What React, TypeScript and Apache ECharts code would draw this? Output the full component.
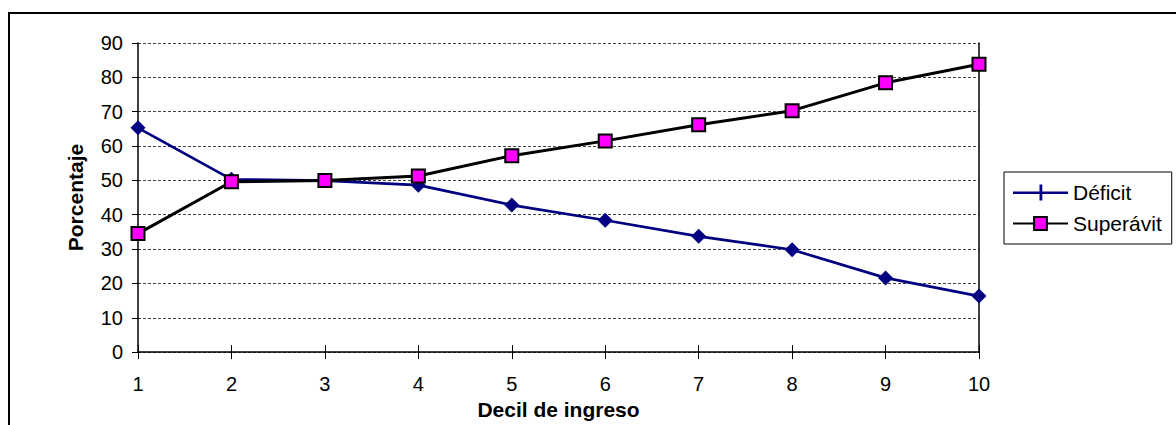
import React, { useEffect, useRef } from "react";
import * as echarts from "echarts";

const categories = ["1", "2", "3", "4", "5", "6", "7", "8", "9", "10"];
const deficit = [65.3, 50.3, 49.9, 48.6, 42.8, 38.4, 33.7, 29.8, 21.6, 16.3];
const superavit = [34.5, 49.6, 50.0, 51.3, 57.2, 61.5, 66.2, 70.3, 78.4, 83.8];
const yTicks = { min: 0, max: 90, interval: 10 };

const FONT = "'Liberation Sans', Arial, sans-serif";

export default function App() {
  const ref = useRef<HTMLDivElement>(null);
  useEffect(() => {
    document.body.style.margin = "0";
    if (!ref.current) return;
    const chart = echarts.init(ref.current, null, { renderer: "svg" });
    chart.setOption({
      animation: false,
      backgroundColor: "#fff",
      textStyle: { fontFamily: FONT },
      graphic: [
        {
          type: "rect",
          shape: { x: 9, y: 13, width: 1300, height: 600 },
          style: { fill: "none", stroke: "#000", lineWidth: 2 },
          silent: true,
          z: 0,
        },
      ],
      grid: { left: 138, right: 197, top: 43, bottom: 69 },
      legend: {
        orient: "vertical",
        left: 1004,
        top: 172,
        padding: [10, 10, 10, 8],
        itemGap: 10,
        itemWidth: 55,
        itemHeight: 16,
        borderColor: "#000",
        borderWidth: 1,
        textStyle: { fontSize: 21, color: "#000", fontFamily: FONT },
        data: [
          { name: "Déficit", icon: "path://M0,7h55v2.5h-55z M26.5,0h2.8v16h-2.8z" },
          { name: "Superávit" },
        ],
      },
      xAxis: [
        {
          type: "category",
          data: categories,
          boundaryGap: false,
          position: "bottom",
          name: "Decil de ingreso",
          nameLocation: "middle",
          nameGap: 38,
          nameTextStyle: { fontSize: 21, fontWeight: "bold", color: "#000", fontFamily: FONT },
          axisLine: { show: true, lineStyle: { color: "#000", width: 1.5 } },
          axisTick: { show: true, inside: false, length: 7, lineStyle: { color: "#000" } },
          axisLabel: { fontSize: 20, color: "#000", margin: 22, fontFamily: FONT },
          splitLine: { show: false },
        },
        {
          type: "category",
          data: categories,
          boundaryGap: false,
          position: "bottom",
          axisLine: { show: false },
          axisTick: { show: true, inside: true, length: 7, lineStyle: { color: "#000" } },
          axisLabel: { show: false },
          splitLine: { show: false },
        },
      ],
      yAxis: [
        {
          type: "value",
          min: yTicks.min,
          max: yTicks.max,
          interval: yTicks.interval,
          name: "Porcentaje",
          nameLocation: "middle",
          nameGap: 52,
          nameTextStyle: { fontSize: 21, fontWeight: "bold", color: "#000", fontFamily: FONT },
          axisLine: { show: true, lineStyle: { color: "#000", width: 1.5 } },
          axisTick: { show: true, inside: false, length: 6, lineStyle: { color: "#000" } },
          axisLabel: { fontSize: 20, color: "#000", margin: 15, fontFamily: FONT },
          splitLine: { show: true, lineStyle: { color: "#444", type: [3, 2], width: 1 } },
        },
        {
          type: "value",
          min: yTicks.min,
          max: yTicks.max,
          interval: yTicks.interval,
          position: "right",
          axisLine: { show: true, lineStyle: { color: "#000", width: 1.5 } },
          axisTick: { show: false },
          axisLabel: { show: false },
          splitLine: { show: false },
        },
      ],
      series: [
        {
          name: "Déficit",
          type: "line",
          data: deficit,
          xAxisIndex: 0,
          yAxisIndex: 0,
          symbol: "diamond",
          symbolSize: 15,
          lineStyle: { color: "#000080", width: 2.7 },
          itemStyle: { color: "#000080", borderWidth: 0 },
          z: 3,
        },
        {
          name: "Superávit",
          type: "line",
          data: superavit,
          xAxisIndex: 0,
          yAxisIndex: 0,
          symbol: "rect",
          symbolSize: 13,
          lineStyle: { color: "#000", width: 3 },
          itemStyle: { color: "#FF00FF", borderColor: "#000", borderWidth: 2 },
          z: 4,
        },
      ],
    });
    return () => chart.dispose();
  }, []);
  return <div ref={ref} style={{ width: 1176, height: 425 }} />;
}
